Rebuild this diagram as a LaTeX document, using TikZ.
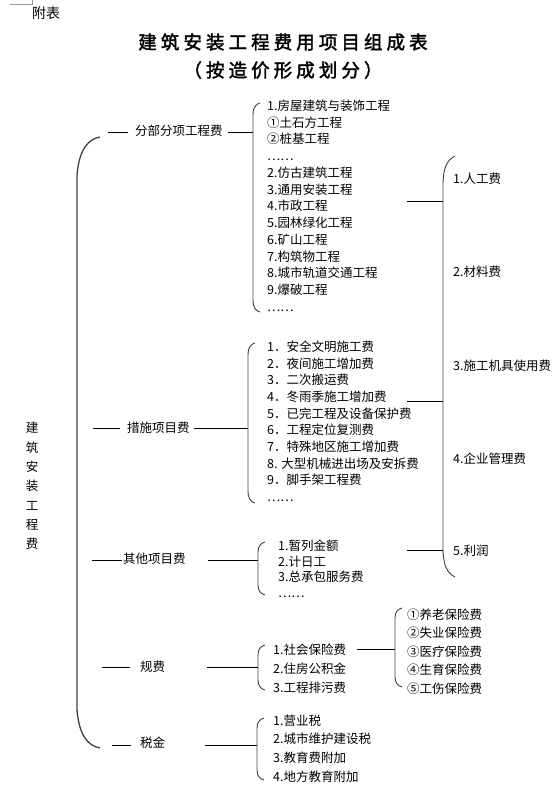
\documentclass[tikz,border=0pt]{standalone}
\usepackage{fontspec}
\setmainfont{Noto Sans CJK SC}
\newfontfamily\titlefont[FakeBold=2,LetterSpace=22]{Noto Sans CJK SC}
\newfontfamily\subtitlefont[FakeBold=2,LetterSpace=22]{Noto Sans CJK SC}

\begin{document}
\begin{tikzpicture}[
  x=1pt, y=-1pt,
  lbl/.style={anchor=west, inner sep=0pt, font=\fontsize{12.5}{15}\selectfont},
  lst/.style={anchor=north west, align=left, inner sep=0pt},
  ln/.style={line width=0.8pt},
  brk/.style={line width=0.9pt, draw=black!75}
]
\useasboundingbox (0,0) rectangle (557,790);
% page corner mark and heading
\draw[black!40, line width=0.5pt] (10,4) -- (32,4) -- (32,0);
\node[anchor=west, inner sep=0pt, font=\fontsize{14}{16}\selectfont] (fubiao) at (32,13) {附表};
\node[font=\titlefont\fontsize{18.5}{20}\selectfont] (title) at (283,42) {建筑安装工程费用项目组成表};
\node[font=\subtitlefont\fontsize{18.5}{20}\selectfont] (subtitle) at (283,70) {（按造价形成划分）};

% root
\node[align=center, inner sep=0pt, font=\fontsize{12.5}{19.3}\selectfont] (total) at (32,486) {建\\筑\\安\\装\\工\\程\\费};
\draw[brk, line width=1.3pt] (100,137) .. controls (88,139) and (79,150) .. (77,175) -- (77,710) .. controls (79,735) and (88,746) .. (100,748);

% first level
\node[lbl] (fbfx) at (135,131) {分部分项工程费};
\node[lbl] (csxm) at (127,428) {措施项目费};
\node[lbl] (qtxm) at (123,559) {其他项目费};
\node[lbl] (gf) at (140,667) {规费};
\node[lbl] (sj) at (140,743) {税金};

\coordinate (fbfx-l) at (108,132);
\coordinate (fbfx-m) at (128,132);
\coordinate (fbfx-r) at (228,132);
\coordinate (fbfx-b) at (253,132);
\coordinate (csxm-l) at (93,428);
\coordinate (csxm-m) at (120,428);
\coordinate (csxm-r) at (194,428);
\coordinate (csxm-b) at (248,428);
\coordinate (qtxm-l) at (92,560);
\coordinate (qtxm-m) at (122,560);
\coordinate (qtxm-r) at (208,560);
\coordinate (qtxm-b) at (258,560);
\coordinate (gf-l) at (102,667);
\coordinate (gf-m) at (130,667);
\coordinate (gf-r) at (207,667);
\coordinate (gf-b) at (258,667);
\coordinate (sj-l) at (112,745);
\coordinate (sj-m) at (131,745);
\coordinate (sj-r) at (205,745);
\coordinate (sj-b) at (257,745);

\draw[ln] (fbfx-l) -- (fbfx-m);
\draw[ln] (fbfx-r) -- (fbfx-b);
\draw[ln] (csxm-l) -- (csxm-m);
\draw[ln] (csxm-r) -- (csxm-b);
\draw[ln] (qtxm-l) -- (qtxm-m);
\draw[ln] (qtxm-r) -- (qtxm-b);
\draw[ln] (gf-l) -- (gf-m);
\draw[ln] (gf-r) -- (gf-b);
\draw[ln] (sj-l) -- (sj-m);
\draw[ln] (sj-r) -- (sj-b);

% second level brackets
\draw[brk] (260,103) .. controls (256,104) and (253,107) .. (253,115) -- (253,300) .. controls (253,308) and (256,311) .. (260,312);
\draw[brk] (255,343) .. controls (251,344) and (248,347) .. (248,355) -- (248,491) .. controls (248,499) and (251,502) .. (255,503);
\draw[brk] (265,542) .. controls (261,543) and (258,546) .. (258,552) -- (258,585) .. controls (258,591) and (261,594) .. (265,595);
\draw[brk] (265,645) .. controls (261,646) and (258,649) .. (258,655) -- (258,680) .. controls (258,686) and (261,689) .. (265,690);
\draw[brk] (264,718) .. controls (260,719) and (257,722) .. (257,728) -- (257,770) .. controls (257,776) and (260,779) .. (264,780);

\node[lst, font=\fontsize{12.5}{16.75}\selectfont] (fbfx-list) at (267,99.5) {1.房屋建筑与装饰工程\\①土石方工程\\②桩基工程\\……\\2.仿古建筑工程\\3.通用安装工程\\4.市政工程\\5.园林绿化工程\\6.矿山工程\\7.构筑物工程\\8.城市轨道交通工程\\9.爆破工程\\……};
\node[lst, font=\fontsize{12.5}{16.7}\selectfont] (csxm-list) at (267,340.5) {1．安全文明施工费\\2．夜间施工增加费\\3．二次搬运费\\4．冬雨季施工增加费\\5．已完工程及设备保护费\\6．工程定位复测费\\7．特殊地区施工增加费\\8. 大型机械进出场及安拆费\\9．脚手架工程费\\……};
\node[lst, font=\fontsize{12.5}{15.7}\selectfont] (qtxm-list) at (278,539.5) {1.暂列金额\\2.计日工\\3.总承包服务费\\……};
\node[lst, font=\fontsize{12.5}{19}\selectfont] (gf-list) at (273,643.5) {1.社会保险费\\2.住房公积金\\3.工程排污费};
\node[lst, font=\fontsize{12.5}{18.7}\selectfont] (sj-list) at (273,714.5) {1.营业税\\2.城市维护建设税\\3.教育费附加\\4.地方教育附加};

% social insurance
\coordinate (sb-r) at (357,649);
\coordinate (sb-b) at (395,649);
\draw[ln] (sb-r) -- (sb-b);
\draw[brk] (402,608) .. controls (398,609) and (395,612) .. (395,618) -- (395,677) .. controls (395,683) and (398,686) .. (402,687);
\node[lst, font=\fontsize{12.5}{18.5}\selectfont] (sb-list) at (407,608.5) {①养老保险费\\②失业保险费\\③医疗保险费\\④生育保险费\\⑤工伤保险费};

% cost elements
\draw[brk] (455,156) .. controls (447,160) and (443,168) .. (443,185) -- (443,548) .. controls (443,565) and (447,573) .. (455,577);
\coordinate (ys-a) at (407,201);
\coordinate (ys-b) at (407,401);
\coordinate (ys-c) at (407,550);
\coordinate (rb-a) at (443,201);
\coordinate (rb-b) at (443,401);
\coordinate (rb-c) at (443,550);
\draw[ln] (ys-a) -- (rb-a);
\draw[ln] (ys-b) -- (rb-b);
\draw[ln] (ys-c) -- (rb-c);

\node[lbl] (rgf) at (453,179) {1.人工费};
\node[lbl] (clf) at (453,272) {2.材料费};
\node[lbl] (jjf) at (453,366) {3.施工机具使用费};
\node[lbl] (glf) at (453,459) {4.企业管理费};
\node[lbl] (lr) at (453,551) {5.利润};
\end{tikzpicture}
\end{document}
